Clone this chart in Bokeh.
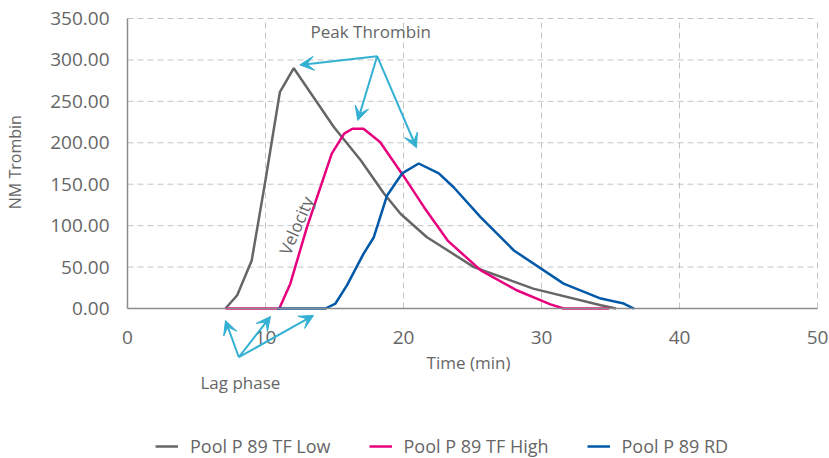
from bokeh.plotting import figure
from bokeh.models import (Arrow, VeeHead, Label, Legend, LegendItem, FixedTicker,
                          NumeralTickFormatter, Range1d)
from bokeh.embed import file_html
from bokeh.resources import INLINE

# ---- data ----
t_low = [7.1, 7.95, 9.0, 10.0, 11.04, 12.05, 14.95, 16.9, 18.57, 19.8, 21.7, 22.56, 25.1, 29.4, 34.3, 35.4]
y_low = [0, 16, 58, 155, 261, 290, 219, 179, 139, 114, 86, 77, 50, 24, 4, 0]

t_high = [7.1, 11.0, 11.8, 13.0, 14.8, 15.7, 16.3, 17.1, 18.3, 20.0, 21.5, 23.2, 25.6, 28.2, 30.65, 31.6, 34.9]
y_high = [0, 0, 30, 98, 187, 211, 217, 217, 201, 160, 122, 82, 46, 22, 5, 0, 0]

t_rd = [10.85, 14.35, 15.07, 15.9, 17.1, 17.85, 18.8, 19.9, 21.1, 22.56, 23.65, 25.6, 28.0, 31.6, 34.3, 35.96, 36.7]
y_rd = [0, 0, 6, 28, 66, 86, 136, 163, 175, 163, 146, 110, 70, 30, 12, 6, 0]

series_names = ["Pool P 89 TF Low", "Pool P 89 TF High", "Pool P 89 RD"]
series_colors = ["#666666", "#E6007E", "#0058A8"]

x_ticks = [0, 10, 20, 30, 40, 50]
y_ticks = [0, 50, 100, 150, 200, 250, 300, 350]

peak_origin = (18.09, 304.5)
peak_targets = [(12.49, 294), (16.69, 227), (20.94, 194)]
lag_origin = (8.07, -58.8)
lag_targets = [(7.10, -14.5), (10.36, -9.7), (13.48, -8.4)]

FONT = "Open Sans"
TXT = "#666666"
ARROW_C = "#34B0D2"
GRID_C = "#c4c4c4"

W, H = 829, 458
p = figure(width=W, height=H, output_backend="svg", toolbar_location=None,
           x_range=Range1d(-9.2029, 50.87), y_range=Range1d(-181.03, 371.72),
           min_border_left=0, min_border_right=0, min_border_top=0, min_border_bottom=0)
p.outline_line_color = None
p.background_fill_color = "white"
p.border_fill_color = "white"

p.xaxis.ticker = FixedTicker(ticks=x_ticks)
p.yaxis.ticker = FixedTicker(ticks=y_ticks)
p.yaxis.formatter = NumeralTickFormatter(format="0.00")
p.xaxis.fixed_location = 0
p.yaxis.fixed_location = 0
p.xaxis.bounds = (0, 50)
p.yaxis.bounds = (0, 350)
for ax in (p.xaxis, p.yaxis):
    ax.major_tick_line_color = None
    ax.minor_tick_line_color = None
    ax.axis_line_color = "#8c8c8c"
    ax.axis_line_width = 1.5
    ax.major_label_text_font = FONT
    ax.major_label_text_font_size = "19px"
    ax.major_label_text_color = TXT
p.xaxis.major_label_standoff = 16
p.yaxis.major_label_standoff = 12

p.xgrid.visible = False
p.ygrid.visible = False
# dashed grid limited to the data area
p.segment(x0=0, y0=y_ticks[1:], x1=50, y1=y_ticks[1:], line_color=GRID_C,
          line_dash="6 4", line_width=1)
p.segment(x0=x_ticks[1:], y0=0, x1=x_ticks[1:], y1=350, line_color=GRID_C,
          line_dash="6 4", line_width=1)

r1 = p.line(t_low, y_low, line_color=series_colors[0], line_width=2.5)
r2 = p.line(t_high, y_high, line_color=series_colors[1], line_width=2.5)
r3 = p.line(t_rd, y_rd, line_color=series_colors[2], line_width=2.5)

legend = Legend(items=[LegendItem(label=series_names[0], renderers=[r1]),
                       LegendItem(label=series_names[1], renderers=[r2]),
                       LegendItem(label=series_names[2], renderers=[r3])],
                orientation="horizontal", location=(155, 0),
                border_line_color=None, background_fill_alpha=0, padding=0, margin=0,
                spacing=38, glyph_width=23, glyph_height=20, label_height=20, label_standoff=12,
                label_text_font=FONT, label_text_font_size="18px", label_text_color=TXT)
p.add_layout(legend)

for (xe, ye) in peak_targets:
    p.add_layout(Arrow(end=VeeHead(size=14, fill_color=ARROW_C, line_color=ARROW_C),
                       x_start=peak_origin[0], y_start=peak_origin[1], x_end=xe, y_end=ye,
                       line_color=ARROW_C, line_width=2))
for (xe, ye) in lag_targets:
    p.add_layout(Arrow(end=VeeHead(size=14, fill_color=ARROW_C, line_color=ARROW_C),
                       x_start=lag_origin[0], y_start=lag_origin[1], x_end=xe, y_end=ye,
                       line_color=ARROW_C, line_width=2))

def txt(x, y, s, size, **kw):
    p.add_layout(Label(x=x, y=y, text=s, text_font=FONT, text_font_size=size,
                       text_color=TXT, text_baseline="middle", **kw))

txt(13.26, 334.3, "Peak Thrombin", "17px")
txt(5.29, -89, "Lag phase", "17px")
txt(12.22, 100.2, "Velocity", "17px", text_align="center", angle=67, angle_units="deg")
txt(24.71, -65.2, "Time (min)", "17px", text_align="center")
txt(-8.17, 176.6, "NM Trombin", "16px", text_align="center", angle=90, angle_units="deg")

open("out.html", "w").write(file_html(p, INLINE))
